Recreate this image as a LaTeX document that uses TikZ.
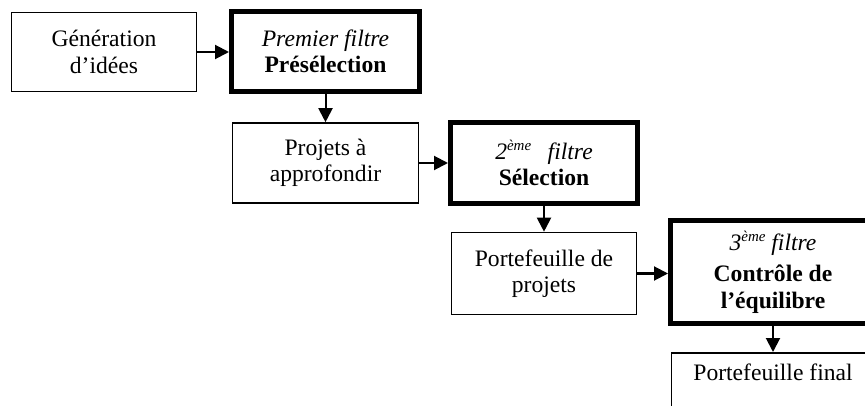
\documentclass[tikz,border=0pt]{standalone}
\usepackage{fontspec}
\setmainfont{Liberation Serif}
\usetikzlibrary{arrows.meta}
\newcommand\expo[1]{\raisebox{0.38em}{\fontsize{15}{15}\selectfont #1}}
\begin{document}
\begin{tikzpicture}[x=1pt,y=-1pt,
  box/.style={draw, line width=1.6pt, align=center, inner sep=0pt,
    font=\fontsize{23.6}{26.5}\selectfont},
  filterbox/.style={box, line width=5pt},
  arr/.style={-{Triangle[length=14pt,width=14pt]}, line width=2pt}]
\useasboundingbox (0,0) rectangle (865,406);
\node[box, minimum width=185pt, minimum height=79pt] (b1) at (104,52)
  {Génération\\d’idées};
\node[filterbox, minimum width=188pt, minimum height=80pt] (b2) at (325.5,51.5)
  {\textit{Premier filtre}\\\textbf{Présélection}};
\node[box, minimum width=186pt, minimum height=80pt] (b3) at (325.5,163)
  {Projets à\\approfondir};
\node[filterbox, minimum width=187pt, minimum height=81pt] (b4) at (544,163)
  {\textit{2\expo{ème}\hspace{0.45em} filtre}\\\textbf{Sélection}};
\node[box, minimum width=185pt, minimum height=82pt] (b5) at (544,273.5)
  {Portefeuille de\\projets};
\node[filterbox, minimum width=205pt, minimum height=103pt] (b6) at (773,272)
  {\textit{3\expo{ème} filtre}\\[5pt]\textbf{Contrôle de}\\\textbf{l’équilibre}};
\node[box, anchor=north, minimum width=203pt, text height=16pt, text depth=50pt,
  inner ysep=12pt] (b7) at (773,352) {Portefeuille final};
\draw[arr] (b1.east) -- (b1.east -| b2.west);
\draw[arr] (b2.south) -- (b2.south |- b3.north);
\draw[arr] (b3.east) -- (b3.east -| b4.west);
\draw[arr] (b4.south) -- (b4.south |- b5.north);
\draw[arr] (b5.east) -- (b5.east -| b6.west);
\draw[arr] (b6.south) -- (b6.south |- b7.north);
\end{tikzpicture}
\end{document}
